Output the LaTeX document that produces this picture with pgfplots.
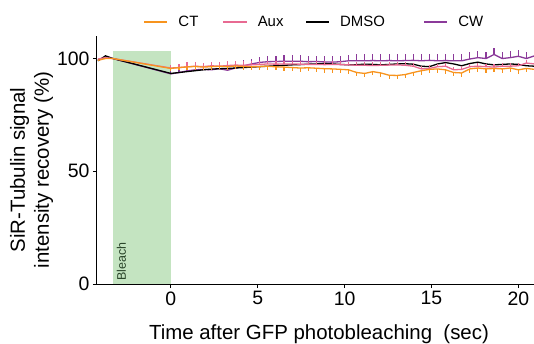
\documentclass[border=0pt]{standalone}
\usepackage{pgfplots}
\usepackage{pgfplotstable}
\pgfplotsset{compat=1.18}
\usepackage{fontspec}
\setmainfont{Liberation Sans}
\definecolor{ctc}{HTML}{F7941E}
\definecolor{auxc}{HTML}{E86A92}
\definecolor{cwc}{HTML}{8B3A9A}
\definecolor{bleachc}{HTML}{C4E4C1}
\definecolor{bleacht}{HTML}{2A452A}
\pgfplotstableread{
t ct ctE aux auxE dmso cw cwE
-4.20 99.2 0 99.8 0 99.0 99.4 0
-3.76 100.0 0 100.4 0 101.2 100.6 0
-3.33 100.0 0 100.0 0 100.0 100.0 0
0.00 95.6 1.0 95.8 1.2 93.4 93.2 1.5
0.47 96.0 1.2 96.0 1.5 93.8 93.8 1.8
0.93 96.3 1.2 96.3 2.0 94.2 94.5 1.8
1.40 96.5 1.5 96.6 1.8 94.6 95.0 2.0
1.86 96.2 1.3 96.4 1.6 95.0 95.2 2.0
2.33 96.4 1.4 96.8 1.8 95.3 95.0 2.0
2.79 96.6 1.3 96.6 1.8 95.5 95.5 2.2
3.26 96.4 1.3 96.9 2.0 95.6 94.8 2.2
3.72 96.7 1.4 97.1 1.8 95.8 95.8 2.4
4.19 96.5 1.5 97.0 1.8 96.0 96.8 2.4
4.65 96.3 1.5 97.2 1.6 96.2 97.6 2.4
5.12 96.5 1.5 97.4 1.5 96.4 98.3 2.5
5.58 96.6 1.6 97.6 1.5 96.6 98.6 2.5
6.05 96.3 1.6 97.5 1.5 96.8 98.7 2.6
6.51 96.2 1.6 97.6 1.5 97.0 98.8 2.6
6.98 96.0 1.6 97.6 1.4 97.2 98.8 2.6
7.44 95.8 1.6 97.5 1.4 97.3 98.8 2.6
7.91 95.9 1.6 97.4 1.4 97.5 98.6 2.6
8.37 95.7 1.7 97.4 1.4 97.6 98.7 2.6
8.84 95.5 1.7 97.3 1.4 97.8 98.5 2.6
9.30 95.4 1.7 97.4 1.4 97.6 98.4 2.6
9.77 95.2 1.7 97.3 1.4 97.4 98.6 2.6
10.23 95.0 1.7 97.2 1.4 97.2 99.0 2.6
10.70 93.8 1.7 97.0 1.4 97.3 99.0 2.8
11.16 93.4 1.7 97.0 1.4 97.5 99.0 2.8
11.63 94.2 1.7 96.9 1.4 97.4 99.1 2.8
12.09 93.6 1.7 97.0 1.4 97.2 99.0 2.8
12.56 92.6 1.7 97.1 1.4 97.4 99.1 2.8
13.02 92.5 1.7 97.2 1.4 97.6 99.0 2.8
13.49 92.9 1.7 97.0 1.4 97.7 99.1 2.8
13.95 93.8 1.7 96.6 1.4 97.5 99.2 2.8
14.42 94.6 1.7 95.4 1.4 96.6 99.0 2.8
14.88 95.2 1.7 95.6 1.4 96.4 99.2 2.8
15.35 95.4 1.7 96.4 1.4 97.6 99.0 2.8
15.81 95.0 1.7 96.6 1.4 98.2 99.1 2.8
16.28 93.8 1.7 95.0 1.4 97.6 99.0 2.8
16.74 93.6 1.7 95.2 1.4 96.8 99.0 2.8
17.21 95.4 1.7 96.4 1.4 97.8 99.8 3.0
17.67 95.8 1.7 96.6 1.4 98.4 100.4 3.0
18.14 95.4 1.7 96.4 1.4 97.6 100.0 3.0
18.60 95.6 1.7 96.2 1.4 97.2 101.8 3.0
19.07 95.4 1.7 96.6 1.4 97.4 100.0 3.0
19.53 95.8 1.7 96.6 1.4 97.6 100.4 3.0
20.00 95.0 1.7 96.8 1.4 97.4 101.0 3.0
20.46 95.6 1.7 98.0 1.4 96.8 100.0 3.0
20.93 95.2 1.7 97.6 1.4 96.6 101.2 3.0
}\datatable
\begin{document}
\begin{tikzpicture}
\path[use as bounding box] (-97bp,-60bp) rectangle (437bp,284bp);
\begin{axis}[
  scale only axis,
  width=437bp, height=248bp,
  xmin=-4.25, xmax=20.9,
  ymin=0, ymax=110,
  axis lines=left,
  axis line style={-, line width=1bp},
  tick style={line width=1bp, black},
  tick align=outside,
  major tick length=4bp,
  xtick={0,5,10,15,20},
  ytick={0,50,100},
  /pgf/number format/assume math mode=true,
  ticklabel style={font=\fontsize{19.5}{22}\selectfont},
  label style={font=\fontsize{20.5}{24}\selectfont},
  xlabel={Time after GFP photobleaching\ \ (sec)},
  xlabel style={at={(axis description cs:0.508,-0.2258)}, anchor=base, inner sep=0pt},
  ylabel={SiR-Tubulin signal\\intensity recovery (\%)},
  ylabel style={align=center, at={(axis description cs:-0.1,0.46)}, anchor=south, inner sep=0pt},
  legend columns=4,
  legend style={draw=none, fill=none, at={(axis description cs:0.1075,1.0565)}, anchor=west,
    font=\fontsize{15}{18}\selectfont, column sep=0pt, inner sep=0pt, nodes={inner sep=0pt}},
  every axis plot/.append style={line width=1.3bp},
  error bars/error bar style={line width=1.1bp},
  error bars/error mark=none,
]
\addplot[fill=bleachc, draw=none, forget plot] coordinates {(-3.33,0) (0,0) (0,103.5) (-3.33,103.5)} -- cycle;
\node[rotate=90, anchor=west, inner sep=0pt, text=bleacht, font=\fontsize{12.5}{14}\selectfont] at (axis cs:-2.85,1.5) {Bleach};
\addplot[cwc, forget plot, error bars/.cd, y dir=plus, y explicit] table[x=t, y=cw, y error=cwE] {\datatable};
\addplot[black, forget plot] table[x=t, y=dmso] {\datatable};
\addplot[auxc, forget plot, error bars/.cd, y dir=plus, y explicit] table[x=t, y=aux, y error=auxE] {\datatable};
\addplot[ctc, forget plot, error bars/.cd, y dir=minus, y explicit] table[x=t, y=ct, y error=ctE] {\datatable};
\addlegendimage{legend image code/.code={\fill[ctc] (0bp,-0.75bp) rectangle (22bp,0.75bp);}}
\addlegendentry{\makebox[56bp][l]{\hspace{11bp}CT}}
\addlegendimage{legend image code/.code={\fill[auxc] (0bp,-0.75bp) rectangle (22bp,0.75bp);}}
\addlegendentry{\makebox[59bp][l]{\hspace{11bp}Aux}}
\addlegendimage{legend image code/.code={\fill[black] (0bp,-0.75bp) rectangle (22bp,0.75bp);}}
\addlegendentry{\makebox[95bp][l]{\hspace{11bp}DMSO}}
\addlegendimage{legend image code/.code={\fill[cwc] (0bp,-0.75bp) rectangle (22bp,0.75bp);}}
\addlegendentry{\makebox[46bp][l]{\hspace{11bp}CW}}
\end{axis}
\end{tikzpicture}
\end{document}
